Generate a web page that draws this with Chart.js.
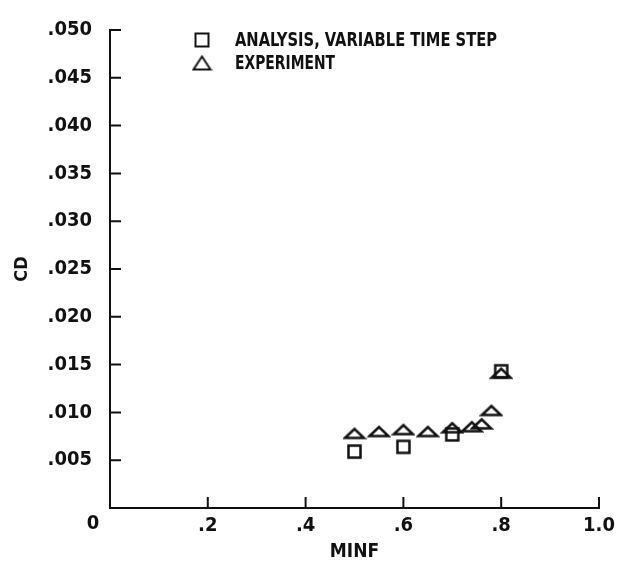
<!DOCTYPE html>
<html>
<head>
<meta charset="utf-8">
<script src="https://cdn.jsdelivr.net/npm/chart.js@4.4.1/dist/chart.umd.min.js"></script>
<style>
  html, body { margin: 0; padding: 0; background: #fff; }
  #wrap { width: 621px; height: 570px; }
</style>
</head>
<body>
<div id="wrap"><canvas id="chart" width="621" height="570"></canvas></div>
<script>
// data
const analysisMinf = [0.5, 0.6, 0.7, 0.8];
const analysisCd = [0.0059, 0.0064, 0.0077, 0.0143];

const experimentMinf = [0.5, 0.55, 0.6, 0.65, 0.7, 0.74, 0.76, 0.78, 0.8];
const experimentCd = [0.0078, 0.0080, 0.0082, 0.0080, 0.0084, 0.0085, 0.0088, 0.0102, 0.0141];

const legendLabels = ['ANALYSIS, VARIABLE TIME STEP', 'EXPERIMENT'];
const xTitle = 'MINF';
const yTitle = 'CD';

const FONT = '"DejaVu Sans Condensed", sans-serif';
const INK = '#111';

// marker canvases
function makeSquare(size, lw) {
    const c = document.createElement('canvas');
    c.width = size + lw * 2; c.height = size + lw * 2;
    const g = c.getContext('2d');
    g.strokeStyle = INK; g.lineWidth = lw;
    g.strokeRect(lw, lw, size, size);
    return c;
}
function makeTriangle(w, h, lw) {
    const c = document.createElement('canvas');
    c.width = w + lw * 2; c.height = h + lw * 2;
    const g = c.getContext('2d');
    g.strokeStyle = INK; g.lineWidth = lw; g.lineJoin = 'miter';
    g.beginPath();
    g.moveTo(lw, lw + h);
    g.lineTo(lw + w / 2, lw);
    g.lineTo(lw + w, lw + h);
    g.closePath();
    g.stroke();
    return c;
}
const squareMark = makeSquare(12, 2.5);
const triangleMark = makeTriangle(19, 9, 2.5);
const legendSquare = makeSquare(13, 2);
const legendTriangle = makeTriangle(17, 13, 2);

const toPts = (xs, ys) => xs.map((x, i) => ({ x: x, y: ys[i] }));

const insideTicks = {
    id: 'insideTicks',
    afterDraw(chart) {
        const ctx = chart.ctx;
        const xs = chart.scales.x, ys = chart.scales.y;
        const area = chart.chartArea;
        ctx.save();
        ctx.strokeStyle = INK;
        ctx.lineWidth = 2;
        ctx.beginPath();
        [0.2, 0.4, 0.6, 0.8, 1.0].forEach(v => {
            const px = xs.getPixelForValue(v);
            ctx.moveTo(px, area.bottom);
            ctx.lineTo(px, area.bottom - 11);
        });
        for (let v = 0.005; v <= 0.0501; v += 0.005) {
            const py = ys.getPixelForValue(v);
            ctx.moveTo(area.left, py);
            ctx.lineTo(area.left + 11, py);
        }
        ctx.stroke();

        // origin label sits below-left of the corner
        ctx.fillStyle = INK;
        ctx.font = 'bold 20px ' + FONT;
        ctx.textAlign = 'center';
        ctx.textBaseline = 'top';
        ctx.fillText('0', xs.getPixelForValue(0) - 17, area.bottom + 6);

        // legend (lettering in the original is narrower than any installed font)
        ctx.font = 'bold 19px ' + FONT;
        ctx.textAlign = 'left';
        ctx.textBaseline = 'middle';
        const marks = [legendSquare, legendTriangle];
        const rows = [40, 63];
        const widths = [262, 100];
        legendLabels.forEach((t, i) => {
            const m = marks[i];
            ctx.drawImage(m, 202 - m.width / 2, rows[i] - m.height / 2);
            ctx.fillText(t, 235, rows[i] + 1, widths[i]);
        });
        ctx.restore();
    }
};

const ctx = document.getElementById('chart').getContext('2d');

const chart = new Chart(ctx, {
    type: 'scatter',
    data: {
        datasets: [
            {
                label: legendLabels[0],
                data: toPts(analysisMinf, analysisCd),
                pointStyle: squareMark,
                showLine: false
            },
            {
                label: legendLabels[1],
                data: toPts(experimentMinf, experimentCd),
                pointStyle: triangleMark,
                showLine: false
            }
        ]
    },
    options: {
        animation: false,
        responsive: false,
        devicePixelRatio: 1,
        layout: { padding: { top: 18, right: 22, left: 0, bottom: 0 } },
        plugins: {
            legend: { display: false },
            tooltip: { enabled: false }
        },
        scales: {
            x: {
                type: 'linear',
                min: 0,
                max: 1.0,
                afterFit: (s) => { s.height = 62; },
                afterBuildTicks: (s) => { s.ticks = [0, 0.2, 0.4, 0.6, 0.8, 1.0].map(v => ({ value: v })); },
                border: { display: true, color: INK, width: 2 },
                grid: { display: false, drawTicks: false },
                ticks: {
                    color: INK,
                    padding: 6,
                    maxRotation: 0,
                    font: { family: FONT, size: 20, weight: 'bold' },
                    callback: (v) => v === 0 ? '' : (v === 1 ? '1.0' : v.toFixed(1).replace(/^0/, ''))
                },
                title: {
                    display: true,
                    text: xTitle,
                    color: INK,
                    padding: { top: 0, bottom: 7 },
                    font: { family: FONT, size: 19, weight: 'bold' }
                }
            },
            y: {
                type: 'linear',
                min: 0,
                max: 0.05,
                afterFit: (s) => { s.width = 110; },
                afterBuildTicks: (s) => {
                    const t = [];
                    for (let i = 0; i <= 10; i++) t.push({ value: i * 0.005 });
                    s.ticks = t;
                },
                border: { display: true, color: INK, width: 2 },
                grid: { display: false, drawTicks: false },
                ticks: {
                    color: INK,
                    padding: 18,
                    font: { family: FONT, size: 20, weight: 'bold' },
                    callback: (v) => v === 0 ? '' : v.toFixed(3).replace(/^0/, '')
                },
                title: {
                    display: true,
                    text: yTitle,
                    color: INK,
                    padding: { top: 12, bottom: 0 },
                    font: { family: FONT, size: 18, weight: 'bold' }
                }
            }
        }
    },
    plugins: [insideTicks]
});
</script>
</body>
</html>
